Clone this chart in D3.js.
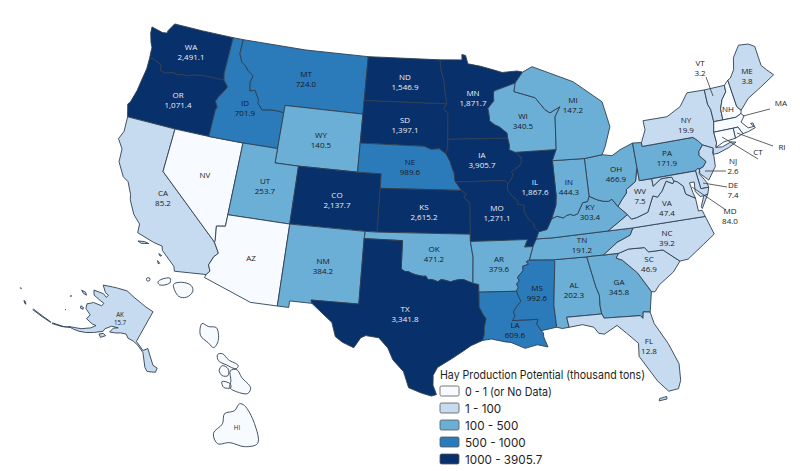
<!DOCTYPE html>
<html>
<head>
<meta charset="utf-8">
<script src="https://cdn.jsdelivr.net/npm/d3@7"></script>
<style>
  html, body { margin: 0; background: #fff; }
  svg { display: block; }
  .state { stroke: #2f3f52; stroke-width: 0.9; stroke-linejoin: round; }
  .lab { font-family: "Open Sans", "Noto Sans", sans-serif; font-size: 8px; text-anchor: middle; dominant-baseline: middle; }
  .leader { stroke: #3a3a3a; stroke-width: 0.8; fill: none; }
  .legend { font-family: Inter, sans-serif; fill: #1e1e1e; }
</style>
</head>
<body>
<svg width="800" height="471"></svg>
<script>
// hay potential per state, thousand tons. no label value = "no data" states
const stateCodes = ["WA","OR","CA","ID","MT","WY","UT","CO","NM","ND","SD","NE","KS","OK","TX","MN","IA","MO","AR","LA","WI","IL","MI","IN","OH","KY","TN","MS","AL","GA","FL","SC","NC","VA","WV","PA","NY","VT","ME","NJ","DE","MD","AK"];
const hayValues = [2491.1,1071.4,85.2,701.9,724.0,140.5,253.7,2137.7,384.2,1546.9,1397.1,989.6,2615.2,471.2,3341.8,1871.7,3905.7,1271.1,379.6,609.6,340.5,1867.6,147.2,444.3,466.9,303.4,191.2,992.6,202.3,345.8,12.8,46.9,39.2,47.4,7.5,171.9,19.9,3.2,3.8,2.6,7.4,84.0,15.7];
const noDataStates = ["NV","AZ","NH","MA","CT","RI","HI"];

const legendLabels = ["0 - 1 (or No Data)","1 - 100","100 - 500","500 - 1000","1000 - 3905.7"];
const legendColors = ["#f7fbff","#c6dbef","#6baed6","#2b7bba","#08306b"];
const legendBreaks = [1,100,500,1000];

// shared borders, [lon, lat]
const columbia = [[-118.98,46],[-119.3,45.93],[-119.6,45.92],[-120.2,45.73],[-120.65,45.74],[-121.2,45.65],[-121.5,45.72],[-122.25,45.55],[-122.75,45.65],[-122.8,46],[-123.2,46.15],[-123.55,46.26],[-124,46.27]];
const snake = [[-117.03,43.83],[-116.93,44.1],[-117.2,44.45],[-117.05,44.75],[-116.85,45],[-116.5,45.5],[-116.46,45.6],[-116.92,46]];
const bitterroot = [[-116.05,49],[-116.05,48],[-115.7,47.45],[-115.3,47.25],[-114.95,46.95],[-114.4,46.65],[-114.55,46.2],[-114.4,45.6],[-113.95,45.7],[-113.45,45.05],[-113.5,44.9],[-113,44.45],[-112.3,44.55],[-111.5,44.55],[-111.05,44.48]];
const coloradoRiver = [[-114.05,36.2],[-114.75,36.1],[-114.6,35.1],[-114.63,35],[-114.15,34.3],[-114.45,34],[-114.7,33.4],[-114.5,33],[-114.72,32.72]];
const redNorthDakota = [[-97.23,49],[-97.1,48.2],[-96.85,47.6],[-96.75,46.9],[-96.56,45.94]];
const bigSioux = [[-96.45,43.5],[-96.45,43],[-96.6,42.5]];
const missouriNE = [[-96.6,42.5],[-96.25,42],[-96.1,41.6],[-95.9,41.2],[-95.85,40.7],[-95.77,40.58]];
const missouriKS = [[-95.31,40],[-94.9,39.75],[-95.1,39.55],[-94.61,39.1]];
const redRiver = [[-100,34.56],[-99.7,34.4],[-99.45,34.4],[-99.2,34.3],[-98.9,34.2],[-98.6,34.15],[-98.3,34.1],[-98.1,34.13],[-97.9,33.88],[-97.7,33.9],[-97.45,33.85],[-97.15,33.75],[-96.9,33.9],[-96.6,33.85],[-96.2,33.75],[-95.8,33.85],[-95.5,33.9],[-95.2,33.9],[-94.8,33.75],[-94.48,33.64]];
const sabine = [[-94.04,31.99],[-93.8,31.55],[-93.55,31.18],[-93.7,30.6],[-93.72,30.1],[-93.85,29.7]];
const stCroix = [[-92.3,46.65],[-92.3,46.1],[-92.85,45.6],[-92.75,45],[-92.75,44.75],[-92.3,44.45],[-91.9,44.3],[-91.25,43.85],[-91.22,43.5]];
const upperMiss = [[-91.22,43.5],[-91.1,43],[-91.15,42.7],[-90.65,42.5]];
const iowaIllinois = [[-90.65,42.5],[-90.45,42.35],[-90.15,42.1],[-90.2,41.8],[-90.35,41.55],[-91.05,41.2],[-90.95,40.95],[-91.1,40.7],[-91.42,40.38]];
const missouriIllinois = [[-91.42,40.38],[-91.5,40],[-91.1,39.5],[-90.75,39.25],[-90.7,38.95],[-90.2,38.85],[-90.2,38.4],[-89.9,37.9],[-89.5,37.55],[-89.5,37.3],[-89.15,36.99]];
const bootheel = [[-89.15,36.99],[-89.4,36.5]];
const bootheelLow = [[-89.4,36.5],[-89.7,36]];
const lowerMissAR = [[-89.7,36],[-90.05,35.1],[-90.3,35],[-90.15,34.8],[-90.6,34.7],[-90.6,34.4],[-91.05,33.95],[-90.95,33.7],[-91.15,33.5],[-91.05,33.25],[-91.2,33]];
const lowerMissLA = [[-91.2,33],[-91,32.5],[-90.9,32.3],[-91.3,31.9],[-91.5,31.6],[-91.4,31.3],[-91.6,31]];
const pearlRiver = [[-89.73,31],[-89.83,30.67],[-89.55,30.2]];
const wabash = [[-88.05,37.8],[-87.6,38.7],[-87.5,39.35]];
const ohioWest = [[-89.15,36.99],[-88.5,37.1],[-88.05,37.8],[-87.6,37.95],[-87.1,37.8],[-86.8,37.95],[-86.5,38],[-86.25,37.9],[-85.9,38],[-85.7,38.3],[-85.4,38.72],[-85,38.75],[-84.82,39.1]];
const ohioMid = [[-84.82,39.1],[-84.2,38.8],[-83.7,38.65],[-83.3,38.6],[-83,38.72],[-82.6,38.17]];
const ohioEast = [[-82.6,38.17],[-82.2,38.6],[-81.75,39],[-81.7,39.25],[-80.85,39.7],[-80.52,40.64]];
const kyVa = [[-82.6,38.17],[-81.95,37.54],[-83.68,36.6]];
const tnNc = [[-81.68,36.59],[-82,36.12],[-83.1,35.75],[-84.3,35]];
const alGa = [[-85.6,35],[-85.18,32.87],[-85,32.3],[-85.05,31.55],[-85,31]];
const gaFl = [[-85,31],[-84.87,30.7],[-82.2,30.57],[-82.05,30.36],[-81.95,30.8],[-81.45,30.72]];
const savannah = [[-83.1,35],[-83.35,34.7],[-82.9,34.5],[-81.9,33.5],[-81.1,32.1]];
const ncSc = [[-83.1,35],[-82.3,35.2],[-81.05,35.15],[-80.8,34.82],[-79.67,34.8],[-78.55,33.86]];
const vaWv = [[-77.72,39.32],[-77.85,39.15],[-78.35,39.4],[-78.85,38.77],[-79.3,38.42],[-79.65,38.55],[-80.3,37.5],[-81.25,37.25],[-81.68,37.2],[-81.95,37.54]];
const potomac = [[-76.3,37.9],[-77,38.3],[-77.05,38.85],[-77.45,39.22],[-77.72,39.32]];
const mdWv = [[-77.72,39.32],[-77.83,39.6],[-78.35,39.62],[-78.75,39.6],[-79.48,39.2],[-79.48,39.72]];
const delawareRiver = [[-74.7,41.36],[-75.13,40.98],[-75.2,40.7],[-74.75,40.2],[-75.1,39.88],[-75.42,39.8]];
const arcDE = [[-75.42,39.8],[-75.6,39.84],[-75.79,39.72]];
const connRiver = [[-71.5,45.01],[-71.55,44.55],[-72.05,44.1],[-72.4,43.5],[-72.46,42.73]];
const vtNy = [[-73.35,45.01],[-73.4,44],[-73.25,43.6],[-73.27,42.75]];
const wiMi = [[-87.11,42.5],[-86.91,44.75],[-86.38,45.41],[-87.33,45.05],[-87.74,45.29],[-88.54,46.17],[-90.41,46.68],[-90.26,47.27]];
const rev = a => a.slice().reverse();

const stateRings = {
  WA: [[[-122.76,49],[-120,49],[-117.03,49],[-117.04,46.42],[-116.92,46],...columbia,[-124.07,46.7],[-124.1,47],[-124.35,47.35],[-124.65,47.95],[-124.72,48.38],[-123.6,48.2],[-123.17,48.25],[-123.17,48.43]]],
  OR: [[...rev(columbia),...rev(snake).slice(0),[-117.03,42],[-120,42],[-124.21,42],[-124.55,42.84],[-124.4,43],[-124.15,43.9],[-124.07,44.6],[-123.95,45.5],[-124,46.27]]],
  CA: [[[-124.21,42],[-120,42],[-120,39],[-114.63,35],...coloradoRiver.slice(4),[-117.12,32.53],[-117.25,32.85],[-118.4,33.75],[-118.5,34.03],[-119.2,34.15],[-120.6,34.55],[-120.65,35.15],[-121.3,35.7],[-121.9,36.6],[-122,36.95],[-122.5,37.75],[-123,38],[-123.7,38.9],[-123.8,39.8],[-124.35,40.4],[-124.1,41]],
       [[-120.4,34],[-119.9,34.07],[-119.55,34],[-120.1,33.9]],[[-118.6,33.48],[-118.35,33.4],[-118.45,33.33]],[[-118.55,33],[-118.35,32.85],[-118.45,32.8]]],
  NV: [[[-120,42],[-117.03,42],[-114.05,42],[-114.05,37],...coloradoRiver.slice(0,4),[-120,39]]],
  ID: [[[-117.03,49],...bitterroot,[-111.05,42],[-114.05,42],[-117.03,42],...snake,[-117.04,46.42]]],
  MT: [[...bitterroot.slice(0,1),[-110,49],[-104.05,49],[-104.05,45],[-111.05,45],[-111.05,44.48],...rev(bitterroot).slice(1)]],
  WY: [[[-111.05,45],[-104.05,45],[-104.05,43],[-104.05,41],[-109.05,41],[-111.05,41]]],
  UT: [[[-114.05,42],[-111.05,42],[-111.05,41],[-109.05,41],[-109.05,37],[-114.05,37]]],
  CO: [[[-109.05,41],[-104.05,41],[-102.05,41],[-102.05,40],[-102.05,37],[-103,37],[-109.05,37]]],
  AZ: [[[-114.05,37],[-109.05,37],[-109.05,31.33],[-111.07,31.33],[-114.8,32.5],...rev(coloradoRiver)]],
  NM: [[[-109.05,37],[-103,37],[-103.04,36.5],[-103.04,32],[-106.62,32],[-106.53,31.78],[-108.2,31.78],[-108.2,31.33],[-109.05,31.33]]],
  ND: [[[-104.05,49],...redNorthDakota,[-104.05,45.94]]],
  SD: [[[-104.05,45.94],[-96.56,45.94],[-96.85,45.6],[-96.45,45.3],...bigSioux,[-97.2,42.85],[-97.9,42.8],[-98.5,43],[-104.05,43],[-104.05,45]]],
  NE: [[[-104.05,43],[-98.5,43],[-97.9,42.8],[-97.2,42.85],...missouriNE,[-95.31,40],[-102.05,40],[-102.05,41],[-104.05,41]]],
  KS: [[[-102.05,40],...missouriKS,[-94.62,37],[-102.05,37]]],
  OK: [[[-103,37],[-102.05,37],[-94.62,37],[-94.62,36.5],[-94.43,35.4],[-94.48,33.64],...rev(redRiver),[-100,36.5],[-103.04,36.5]]],
  TX: [[[-103.04,36.5],[-100,36.5],...redRiver,[-94.04,33.55],[-94.04,33.02],...sabine,[-94.7,29.35],[-95.15,29.05],[-96.1,28.45],[-97.1,27.85],[-97.4,27.3],[-97.4,26.6],[-97.15,25.96],[-97.5,25.85],[-98.2,26.05],[-99.1,26.4],[-99.5,27.5],[-100.3,28.3],[-100.7,29.1],[-101.4,29.77],[-102.35,29.87],[-102.7,29.7],[-103.15,28.98],[-104,29.3],[-104.55,29.65],[-104.9,30.6],[-106,31.4],[-106.53,31.78],[-106.62,32],[-103.04,32]]],
  MN: [[...redNorthDakota.slice(0,1),[-95.15,49],[-95.15,49.38],[-94.8,49.3],[-94.6,48.72],[-93.5,48.55],[-92.4,48.3],[-91.4,48.05],[-90,48.1],[-89.5,48],[-90.26,47.27],[-92.2,46.8],...stCroix,[-96.45,43.5],[-96.45,45.3],[-96.85,45.6],...rev(redNorthDakota)]],
  IA: [[[-96.45,43.5],...upperMiss,...iowaIllinois,[-91.73,40.61],[-95.77,40.58],...rev(missouriNE),...rev(bigSioux).slice(1,2)]],
  MO: [[[-95.77,40.58],[-91.73,40.61],...missouriIllinois,...bootheel,...bootheelLow,[-90.37,36],[-90.1,36.5],[-94.62,36.5],[-94.62,37],...rev(missouriKS)]],
  AR: [[[-94.62,36.5],[-90.1,36.5],[-90.37,36],...lowerMissAR,[-94.04,33.02],[-94.04,33.55],[-94.48,33.64],[-94.43,35.4]]],
  LA: [[[-94.04,33.02],...lowerMissLA,[-89.73,31],...pearlRiver,[-89.4,30.05],[-89.4,29.75],[-89.15,29.05],[-89.9,29.25],[-90.8,29.05],[-91.8,29.5],[-92.2,29.55],[-93.2,29.78],...rev(sabine)]],
  MS: [[[-90.05,35.1],[-88.2,35],[-88.1,34.9],[-88.47,31.9],[-88.4,30.37],...rev(pearlRiver),[-91.6,31],...rev(lowerMissLA),...rev(lowerMissAR).slice(1,-1)]],
  AL: [[[-88.2,35],...alGa,[-87.6,31],[-87.5,30.3],[-88,30.25],[-88.4,30.37],[-88.47,31.9],[-88.1,34.9]]],
  TN: [[[-90.05,35.1],[-89.7,36],[-89.4,36.5],[-88.07,36.5],[-83.68,36.6],...tnNc,[-85.6,35],[-88.2,35]]],
  GA: [[[-85.6,35],[-84.3,35],...savannah,...rev(gaFl),...rev(alGa)]],
  FL: [[...gaFl,[-81.3,29.9],[-80.55,28.4],[-80.05,26.9],[-80.15,25.75],[-80.4,25.2],[-81.1,25.12],[-81.75,25.95],[-82.15,26.7],[-82.75,27.8],[-82.65,28.7],[-83.4,29.5],[-84,30.1],[-85,29.6],[-85.4,29.7],[-85.7,30.15],[-86.5,30.4],[-87.5,30.3],[-87.6,31]],
       [[-81.85,24.55],[-81.3,24.6],[-81.3,24.78],[-81.8,24.7]]],
  SC: [[...ncSc,[-79.2,33.2],[-80.4,32.5],[-80.85,32.05],...rev(savannah)]],
  NC: [[[-84.3,35],...rev(tnNc),[-75.87,36.55],[-75.5,35.25],[-76.5,34.7],[-77.9,33.9],...rev(ncSc),[-84.3,35]]],
  VA: [[[-83.68,36.6],[-81.68,36.59],[-75.87,36.55],[-76,37],[-76.3,37],...potomac,...vaWv,[-81.95,37.54]],
       [[-75.6,37.95],[-75.24,38.03],[-75.95,37.12],[-76,37.25]]],
  WV: [[...ohioEast,[-80.52,39.72],[-79.48,39.72],...rev(mdWv).slice(1),...vaWv.slice(1),[-82.6,38.17]]],
  KY: [[...ohioWest,...ohioMid,...kyVa.slice(1),[-88.07,36.5],[-89.4,36.5]]],
  OH: [[[-84.8,41.7],[-83.26,41.82],[-82.43,41.67],[-81.68,42],[-80.52,42.33],[-80.52,40.64],...rev(ohioEast),...rev(ohioMid)]],
  IN: [[[-87.53,41.76],[-84.8,41.7],...rev(ohioWest).slice(0,-2),[-88.05,37.8],...wabash]],
  IL: [[[-90.65,42.5],[-87.11,42.5],[-87.53,41.76],...rev(wabash),[-88.5,37.1],[-89.15,36.99],...rev(missouriIllinois),...rev(iowaIllinois)]],
  WI: [[[-92.2,46.8],[-90.26,47.27],...rev(wiMi),[-90.65,42.5],...rev(upperMiss),...rev(stCroix),[-92.2,46.8]]],
  MI: [[...wiMi,[-89.5,48],[-88.57,48.33],[-84.93,47.04],[-82.57,45.43],[-82.22,43.66],[-82.9,42.34],[-83.26,41.82],[-84.8,41.7],[-87.53,41.76]]],
  PA: [[[-80.52,42.33],[-79.76,42.27],[-79.76,42],[-75.35,42],[-75.05,41.75],...delawareRiver,...arcDE,[-80.52,39.72],[-80.52,40.64]]],
  NY: [[[-79.76,42.27],[-79.25,43.09],[-79.27,43.73],[-77.14,43.72],[-75.81,44.23],[-74.92,45.07],...vtNy,[-73.5,42.05],[-73.5,41.3],[-73.65,41],[-73.1,40.95],[-72.3,41.15],[-71.9,41.05],[-72.6,40.8],[-73.6,40.58],[-74,40.58],[-73.9,41],[-74.7,41.36],[-75.05,41.75],[-75.35,42],[-79.76,42]]],
  NJ: [[[-74.7,41.36],[-73.9,41],[-74.05,40.65],[-74,40.45],[-74.1,39.75],[-74.9,38.93],[-75.5,39.5],[-75.42,39.8],...rev(delawareRiver)]],
  DE: [[...arcDE,[-75.7,38.46],[-75.05,38.45],[-75.1,38.8],[-75.55,39.5]]],
  MD: [[[-79.48,39.72],[-75.79,39.72],[-75.7,38.46],[-75.05,38.45],[-75.24,38.03],[-75.6,37.95],[-75.9,37.95],[-76.2,38.35],[-76.1,39],[-76.5,39],[-76.4,38.3],...potomac,...mdWv]],
  VT: [[...vtNy.slice(0,1),...connRiver,...rev(vtNy).slice(0,3)]],
  NH: [[...connRiver,[-71.3,42.7],[-70.8,42.87],[-70.7,43.08],[-70.98,43.4],[-71.08,45.3]]],
  ME: [[[-71.08,45.3],[-70.8,45.4],[-70.3,45.9],[-70,46.7],[-69.2,47.45],[-68.3,47.35],[-67.8,47.07],[-67.8,45.7],[-67.45,45.3],[-67,44.85],[-68.5,44.25],[-69.8,43.75],[-70.7,43.08],[-70.98,43.4]]],
  MA: [[[-73.5,42.05],[-73.27,42.75],[-72.46,42.73],[-71.3,42.7],[-70.8,42.87],[-70.6,42.65],[-71,42.3],[-70.55,41.8],[-70,41.8],[-70.05,42.05],[-70.25,42.05],[-69.95,41.7],[-70.65,41.55],[-71.13,41.5],[-71.38,42.02],[-71.8,42.02]]],
  RI: [[[-71.8,42.02],[-71.38,42.02],[-71.13,41.5],[-71.85,41.32]]],
  CT: [[[-73.5,42.05],[-71.8,42.02],[-71.85,41.32],[-72.9,41.25],[-73.65,41],[-73.5,41.3]]],
  AK: [[[-141,69.65],[-141,60.3],[-137.1,58.87],[-135.75,59.78],[-131.4,56.36],[-129.56,56.03],[-129.6,54.94],[-132.42,54.45],[-133.73,55.18],[-136.78,58.41],[-139.8,59.55],[-142,60],[-144.5,60.1],[-146,60.8],[-148,60.4],[-149.5,59.8],[-151.8,59.2],[-151.5,60.5],[-150,61.2],[-152.5,60.7],[-154,59.3],[-154,58.5],[-156.5,57],[-158.8,55.9],[-161,55.2],[-163,54.8],[-164.9,54.6],[-163,55.3],[-161,56],[-158.5,57.5],[-157.5,58.7],[-159,58.5],[-162,58.7],[-162,60],[-165,60.6],[-166,61.7],[-165,62.5],[-164.5,63],[-161,63.6],[-161,64.5],[-163,64.5],[-166.5,64.6],[-168.1,65.6],[-164,66.5],[-162,66.2],[-161.8,67],[-163.7,67.1],[-166.8,68.35],[-163,69.7],[-161,70.3],[-156.6,71.35],[-152,70.8],[-148,70.4],[-145,70]],
       [[-154.6,57.4],[-153.4,58.1],[-152.2,57.9],[-153.4,56.9]],
       [[-171.7,63.4],[-170,63.7],[-168.7,63.3],[-170.2,63.1]],
       [[-167.2,60.3],[-166,60.4],[-165.6,60],[-166.6,59.8]],
       [[-173,60.6],[-172.6,60.5],[-172.9,60.3]],
       [[-170.4,57.2],[-170.1,57.2],[-170.2,57.1]],
       [[-169.9,52.8],[-166,53.9],[-164.5,54.6],[-165,54.4],[-166.6,53.6],[-169.9,52.6]],
       [[-178,51.8],[-174,52.2],[-170.5,52.6],[-170.6,52.7],[-174,52.4],[-178,52]],
       [[179,51.5],[178,51.8],[177.5,51.7],[178.5,51.4]],
       [[173,52.85],[173.4,53],[173.4,52.85]]]
};
stateRings.HI = [
  [[-160.42,21.8],[-160.36,21.74],[-160.42,21.68],[-160.48,21.74]],
  [[-160.14,21.86],[-160.1,22],[-159.93,22.17],[-159.84,22.04],[-160.04,21.81]],
  [[-159.72,22.08],[-159.57,22.28],[-159.28,22.37],[-159.12,22.25],[-159.15,21.99],[-159.36,21.87]],
  [[-158.25,21.6],[-158.03,21.64],[-157.82,21.75],[-157.52,21.45],[-157.49,21.19],[-157.72,21.22],[-158.05,21.27]],
  [[-157.26,21.08],[-157.16,21.19],[-156.9,21.14],[-156.55,21.16],[-156.54,21.04],[-156.85,20.97],[-157.12,20.94]],
  [[-156.91,20.7],[-156.93,20.88],[-156.73,20.9],[-156.6,20.72],[-156.74,20.62]],
  [[-156.64,20.89],[-156.5,21.03],[-156.23,20.91],[-155.82,20.8],[-155.78,20.6],[-155.99,20.48],[-156.32,20.44],[-156.43,20.64]],
  [[-156.63,20.46],[-156.4,20.55],[-156.3,20.46],[-156.47,20.34]],
  [[-155.78,20.19],[-155.63,20.23],[-155.05,19.93],[-154.6,19.46],[-154.85,19.15],[-155.28,19],[-155.55,18.76],[-155.84,18.96],[-155.81,19.37],[-155.95,19.67],[-155.77,19.92]]
];

// label spots and their leader lines, in page pixels
const labelSpots = {WA:[191,48],OR:[178,96],CA:[163,194],NV:[205,176],ID:[245,104],MT:[306,75],WY:[321,136],UT:[265,182],AZ:[251,259],CO:[337,196],NM:[323,262],ND:[405,78],SD:[405,121],NE:[410,163],KS:[424,208],OK:[434,250],TX:[405,310],MN:[473,94],IA:[482,156],MO:[497,209],AR:[499,260],LA:[515,326],IL:[535,183],WI:[523,117],MI:[573,101],IN:[569,183],OH:[616,170],KY:[590,208],TN:[582,241],MS:[537,289],AL:[574,286],GA:[619,283],FL:[649,342],SC:[649,260],NC:[667,234],VA:[667,204],WV:[640,192],PA:[667,154],NY:[686,121],ME:[747,72],VT:[700,64],NH:[728,110],MA:[781,104],RI:[782,148],CT:[758,153],NJ:[733,162],DE:[733,186],MD:[730,212],AK:[120,315],HI:[237,428]};
const leaderLines = [[[706,77],[713,96]],[[770,109],[743,116]],[[773,146],[737,133]],[[758,159],[722,137]],[[726,171],[705,171]],[[727,187],[703,183]],[[726,210],[692,187]]];

const svg = d3.select("svg")
const yStretch = 0.913

// albers, then the source map's slight vertical squash
const projector = (scale, tx, ty) => {
    const albers = d3.geoAlbers().parallels([29.5,45.5]).rotate([96,0]).center([0,37.5]).scale(scale).translate([tx,ty])
    return p => {
        const [x, y] = albers(p)
        return [x, ty + (y - ty) * yStretch]
    }
}
const planarPath = project => d3.geoPath(d3.geoTransform({
    point(lon, lat) {
        const [x, y] = project([lon, lat])
        this.stream.point(x, y)
    }
}))
const lower48 = planarPath(projector(909, 453, 227))
const alaska = planarPath(projector(270, 249, 462))
// the hawaiian islands are drawn rounded like the reference
const hawaiiPoint = projector(2000, 2127, 415)
const smoothRing = d3.line().curve(d3.curveCatmullRomClosed.alpha(0.5))
const hawaii = d => d.geometry.coordinates.map(poly => smoothRing(poly[0].slice(0, -1).map(hawaiiPoint))).join("")
const pathFor = code => code === "AK" ? alaska : code === "HI" ? hawaii : lower48

const colorScale = d3.scaleThreshold().domain(legendBreaks).range(legendColors)
const hayByState = new Map(stateCodes.map((code, i) => [code, hayValues[i]]))
const fmt = d3.format(",.1f")

const features = Object.keys(stateRings).map(code => ({
    type: "Feature",
    id: code,
    geometry: { type: "MultiPolygon", coordinates: stateRings[code].map(r => [[...r, r[0]]]) }
}))

svg.append("g").selectAll("path")
    .data(features)
    .join("path")
    .attr("class", "state")
    .attr("d", d => pathFor(d.id)(d))
    .attr("fill", d => colorScale(hayByState.get(d.id) ?? 0))

svg.append("g").selectAll("line")
    .data(leaderLines)
    .join("line")
    .attr("class", "leader")
    .attr("x1", d => d[0][0]).attr("y1", d => d[0][1])
    .attr("x2", d => d[1][0]).attr("y2", d => d[1][1])

const labels = svg.append("g").style("opacity", 0.99).selectAll("text")
    .data(stateCodes.concat(noDataStates))
    .join("text")
    .attr("class", "lab")
    .attr("fill", d => (hayByState.get(d) ?? 0) >= 1000 ? "#eef3f8" : "#1a1a1a")
    .attr("x", d => labelSpots[d][0])
    .attr("y", d => labelSpots[d][1])
    .style("font-size", d => d === "AK" || d === "HI" ? "6.2px" : null)

labels.append("tspan").text(d => d)
labels.filter(d => hayByState.has(d)).append("tspan")
    .attr("x", d => labelSpots[d][0])
    .attr("dy", d => d === "AK" ? 7.5 : 9.7)
    .text(d => fmt(hayByState.get(d)))

// legend
const legend = svg.append("g").attr("class", "legend")
legend.append("text").attr("x", 440).attr("y", 379).style("font-size", "11.7px")
    .attr("textLength", 205).attr("lengthAdjust", "spacingAndGlyphs")
    .text("Hay Production Potential (thousand tons)")
const rows = legend.selectAll("g").data(legendLabels).join("g")
    .attr("transform", (d, i) => `translate(440,${386 + i * 17})`)
rows.append("rect").attr("width", 19).attr("height", 10).attr("rx", 1.5)
    .attr("fill", (d, i) => legendColors[i]).attr("stroke", "#555").attr("stroke-width", 0.8)
rows.append("text").attr("x", 25).attr("y", 9.5).style("font-size", "11.7px")
    .attr("textLength", (d, i) => i === 0 ? 87 : null).attr("lengthAdjust", "spacingAndGlyphs")
    .text(d => d)
</script>
</body>
</html>
